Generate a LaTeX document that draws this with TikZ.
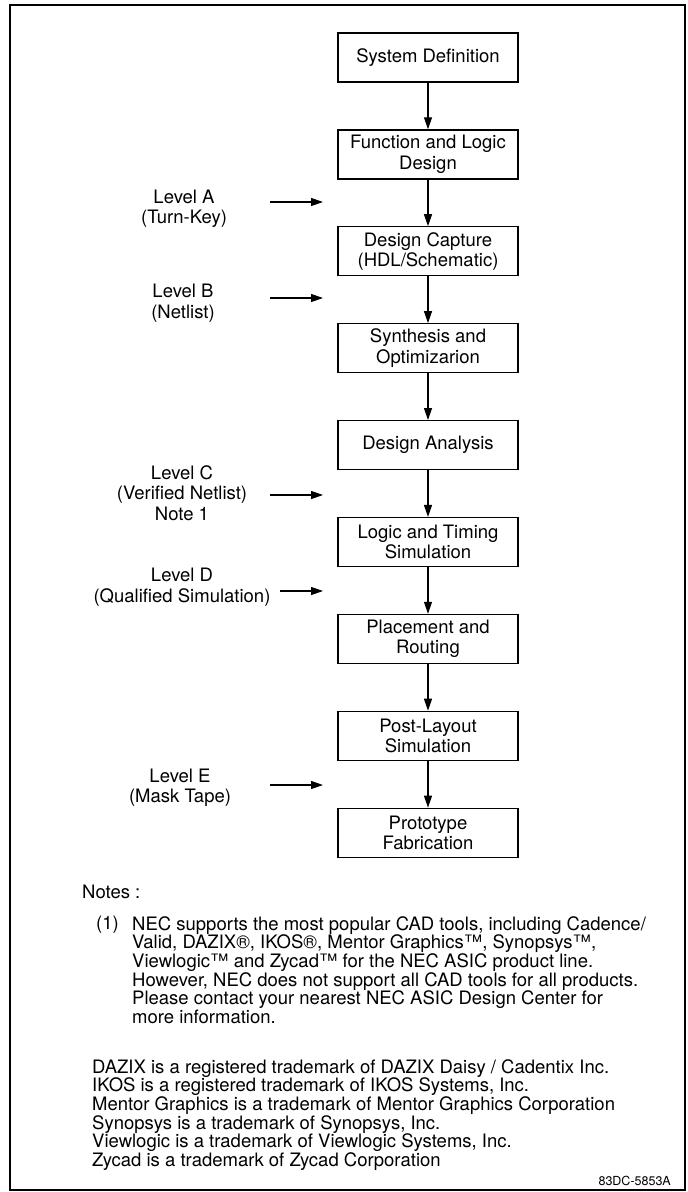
\documentclass[tikz,border=0pt]{standalone}
\usepackage{fontspec}
\setmainfont{TeX Gyre Heros}
\usetikzlibrary{arrows.meta,positioning}

\tikzset{
  stage/.style={draw, line width=1.2pt, minimum width=180pt, minimum height=49pt,
    align=center, inner sep=2pt, font=\fontsize{18.5}{20.5}\selectfont},
  level/.style={align=center, inner sep=0pt, font=\fontsize{18.5}{20.5}\selectfont},
  flow/.style={-{Triangle[length=12pt,width=8pt]}, line width=1.2pt},
  notetext/.style={align=left, inner sep=0pt, font=\fontsize{18.5}{18.7}\selectfont}
}

\begin{document}
\begin{tikzpicture}[x=1pt, y=-1pt, node distance=46.7pt]
    \useasboundingbox (0,0) rectangle (688,1192);

    % Frame
    \draw[line width=2pt] (10,5) rectangle (685,1190);

    % Design flow
    \node[stage] (sysdef) at (428,57.5) {System Definition};
    \node[stage, below=of sysdef] (funclogic) {Function and Logic\\Design};
    \node[stage, below=of funclogic] (capture) {Design Capture\\(HDL/Schematic)};
    \node[stage, below=of capture] (synth) {Synthesis and\\Optimizarion};
    \node[stage, below=of synth] (analysis) {Design Analysis};
    \node[stage, below=of analysis] (logicsim) {Logic and Timing\\Simulation};
    \node[stage, below=of logicsim] (place) {Placement and\\Routing};
    \node[stage, below=of place] (postlay) {Post-Layout\\Simulation};
    \node[stage, below=of postlay] (proto) {Prototype\\Fabrication};

    \draw[flow] (sysdef) -- (funclogic);
    \draw[flow] (funclogic) -- (capture);
    \draw[flow] (capture) -- (synth);
    \draw[flow] (synth) -- (analysis);
    \draw[flow] (analysis) -- (logicsim);
    \draw[flow] (logicsim) -- (place);
    \draw[flow] (place) -- (postlay);
    \draw[flow] (postlay) -- (proto);

    % Hand-off levels
    \node[level] (levA) at (184,209) {Level A\\(Turn-Key)};
    \node[level] (levB) at (183,303) {Level B\\(Netlist)};
    \node[level] (levC) at (182,493) {Level C\\(Verified Netlist)\\Note 1};
    \node[level] (levD) at (182,587) {Level D\\(Qualified Simulation)};
    \node[level] (levE) at (180,788) {Level E\\(Mask Tape)};

    \coordinate (aA) at (270,202);  \coordinate (bA) at (323,202);
    \coordinate (aB) at (270,298);  \coordinate (bB) at (323,298);
    \coordinate (aC) at (270,495);  \coordinate (bC) at (323,495);
    \coordinate (aD) at (280,591);  \coordinate (bD) at (323,591);
    \coordinate (aE) at (270,785);  \coordinate (bE) at (323,785);

    \draw[flow] (aA) -- (bA);
    \draw[flow] (aB) -- (bB);
    \draw[flow] (aC) -- (bC);
    \draw[flow] (aD) -- (bD);
    \draw[flow] (aE) -- (bE);

    % Notes
    \node[notetext, anchor=west] (notes) at (82,892) {Notes :};
    \node[notetext, anchor=north west] (num1) at (96,916) {(1)};
    \node[notetext, anchor=north west] (note1) at (132,916)
      {NEC supports the most popular CAD tools, including Cadence/\\
       Valid, DAZIX®, IKOS®, Mentor Graphics™, Synopsys™,\\
       Viewlogic™ and Zycad™ for the NEC ASIC product line.\\
       However, NEC does not support all CAD tools for all products.\\
       Please contact your nearest NEC ASIC Design Center for\\
       more information.};
    \node[notetext, anchor=north west] (marks) at (92,1059)
      {DAZIX is a registered trademark of DAZIX Daisy / Cadentix Inc.\\
       IKOS is a registered trademark of IKOS Systems, Inc.\\
       Mentor Graphics is a trademark of Mentor Graphics Corporation\\
       Synopsys is a trademark of Synopsys, Inc.\\
       Viewlogic is a trademark of Viewlogic Systems, Inc.\\
       Zycad is a trademark of Zycad Corporation};
    \node[inner sep=0pt, anchor=east, font=\fontsize{12.5}{14}\selectfont] (figid) at (671,1181) {83DC-5853A};
\end{tikzpicture}
\end{document}
